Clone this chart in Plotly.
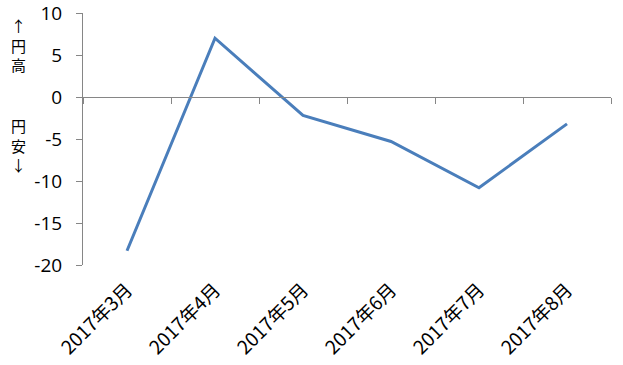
import plotly.graph_objects as go

categories = ["2017年3月", "2017年4月", "2017年5月", "2017年6月", "2017年7月", "2017年8月"]
values = [-18.3, 7.0, -2.2, -5.3, -10.8, -3.2]
y_ticks = [-20, -15, -10, -5, 0, 5, 10]
y_tick_text = ["-20", "-15", "-10", "-5", "0", "5", "10"]

W, H = 623, 365
ml, mr, mt, mb = 83, 12, 13, 100
ymin, ymax = -20, 10
dom_frac = (0 - ymin) / (ymax - ymin)

font_cjk = "Noto Sans CJK JP, Open Sans, sans-serif"
axis_grey = "#868686"

fig = go.Figure()
fig.add_trace(go.Scatter(x=categories, y=values, mode="lines",
                         line=dict(color="#4a7ebb", width=3), xaxis="x", yaxis="y",
                         showlegend=False))
fig.add_trace(go.Scatter(x=categories, y=values, mode="lines", opacity=0,
                         hoverinfo="skip", xaxis="x2", yaxis="y", showlegend=False))

fig.update_layout(
    width=W, height=H,
    margin=dict(l=ml, r=mr, t=mt, b=mb, autoexpand=False),
    plot_bgcolor="white", paper_bgcolor="white",
    font=dict(family=font_cjk, color="black"),
    xaxis=dict(type="category", categoryorder="array", categoryarray=categories,
               range=[-0.5, len(categories) - 0.5], automargin=False,
               showline=False, showgrid=False, zeroline=False, ticks="",
               tickangle=-45, tickfont=dict(size=19, family=font_cjk),
               ticklabelstandoff=9, ticklabeloverflow="allow"),
    xaxis2=dict(type="category", categoryorder="array", categoryarray=categories,
                range=[-0.5, len(categories) - 0.5], overlaying="x",
                anchor="free", position=dom_frac, side="bottom", automargin=False,
                showline=True, linecolor=axis_grey, linewidth=1,
                showgrid=False, zeroline=False, ticks="outside", tickson="boundaries",
                ticklen=6, tickcolor=axis_grey, showticklabels=False),
    yaxis=dict(range=[ymin, ymax], tickmode="array", tickvals=y_ticks,
               ticktext=y_tick_text, showgrid=False, zeroline=False, automargin=False,
               showline=True, linecolor=axis_grey, linewidth=1,
               ticks="outside", ticklen=6, tickcolor=axis_grey,
               tickfont=dict(size=19, family="Open Sans, sans-serif"),
               ticklabelstandoff=10, ticklabeloverflow="allow"),
    annotations=[
        dict(text="↑<br>円<br>高", x=18, y=H - 45, xref="paper", yref="paper",
             xanchor="center", yanchor="middle",
             showarrow=False, font=dict(size=15, family=font_cjk)),
        dict(text="円<br>安<br>↓", x=18, y=H - 145, xref="paper", yref="paper",
             xanchor="center", yanchor="middle",
             showarrow=False, font=dict(size=15, family=font_cjk)),
    ],
)

# convert pixel positions of annotations to paper coords
for a in fig.layout.annotations:
    a.x = (a.x - ml) / (W - ml - mr)
    a.y = (a.y - mb) / (H - mt - mb)

fig.write_html("out.html")
